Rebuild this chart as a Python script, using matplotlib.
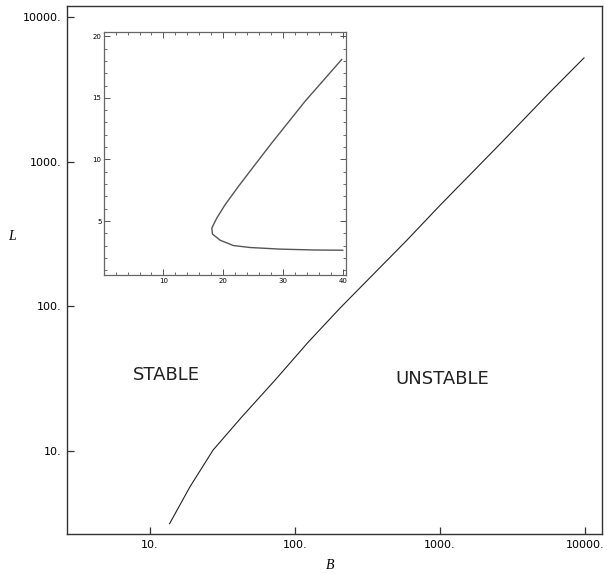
import numpy as np
import matplotlib
matplotlib.use('Agg')
import matplotlib.pyplot as plt
from matplotlib.ticker import FixedLocator, MultipleLocator, NullLocator

# 主图数据 (log-log)
B_main = [13.7, 18.9, 27.3, 42.9, 72.8, 123.6, 204, 589, 1000, 2667, 5585, 9840]
L_main = [3.17, 5.68, 10.2, 17.2, 30.9, 56.7, 97, 285, 498, 1358, 2933, 5190]
main_ticks = [10, 100, 1000, 10000]
main_ticklabels = ['10.', '100.', '1000.', '10000.']

# 插图数据 (线性)
B_inset = [40.0, 35.1, 29.5, 24.5, 21.7, 19.5, 18.2, 18.1, 18.93, 20.32, 22.54, 25.33, 28.13, 33.7, 39.83]
L_inset = [2.64, 2.66, 2.73, 2.86, 3.02, 3.45, 3.95, 4.44, 5.25, 6.33, 7.81, 9.58, 11.34, 14.72, 18.11]
inset_xticks = [10, 20, 30, 40]
inset_yticks = [5, 10, 15, 20]

fig = plt.figure(figsize=(6.07, 5.74), dpi=100)
ax = fig.add_axes([0.1104, 0.0697, 0.8814, 0.9199])

ax.plot(B_main, L_main, color='#222222', lw=0.8)
ax.set_xscale('log')
ax.set_yscale('log')
ax.set_xlim(2.69, 13090)
ax.set_ylim(2.69, 11840)

ax.xaxis.set_major_locator(FixedLocator(main_ticks))
ax.yaxis.set_major_locator(FixedLocator(main_ticks))
ax.xaxis.set_minor_locator(NullLocator())
ax.yaxis.set_minor_locator(NullLocator())
ax.set_xticklabels(main_ticklabels)
ax.set_yticklabels(main_ticklabels)
ax.tick_params(direction='in', length=5, width=0.9, color='#333333',
               labelsize=8, pad=4, top=False, right=False)
for s in ax.spines.values():
    s.set_color('#333333')
    s.set_linewidth(1.0)

ax.set_xlabel('B', fontfamily='Liberation Serif', style='italic', fontsize=10,
              ha='center', va='center')
ax.set_ylabel('L', fontfamily='Liberation Serif', style='italic', fontsize=10,
              rotation=0, ha='center', va='center')
ax.xaxis.set_label_coords(0.4916, -0.0606)
ax.yaxis.set_label_coords(-0.103, 0.5625)

ax.text(13.1, 33.4, 'STABLE', fontsize=13, ha='center', va='center', color='#222222')
ax.text(1040, 31.8, 'UNSTABLE', fontsize=13, ha='center', va='center', color='#222222')

# 插图
ins = fig.add_axes([0.1718, 0.5209, 0.3982, 0.4225])
ins.plot(B_inset, L_inset, color='#555555', lw=1.0)
ins.set_xlim(0.1, 40.55)
ins.set_ylim(0.63, 20.3)
ins.xaxis.set_major_locator(FixedLocator(inset_xticks))
ins.yaxis.set_major_locator(FixedLocator(inset_yticks))
ins.xaxis.set_minor_locator(MultipleLocator(2))
ins.yaxis.set_minor_locator(MultipleLocator(1))
ins.tick_params(which='both', direction='in', top=True, right=True,
                color='#555555', labelsize=5, pad=2)
ins.tick_params(which='major', length=4, width=0.7)
ins.tick_params(which='minor', length=2, width=0.6)
for s in ins.spines.values():
    s.set_color('#666666')
    s.set_linewidth(0.9)

fig.savefig('out.png', dpi=100)
